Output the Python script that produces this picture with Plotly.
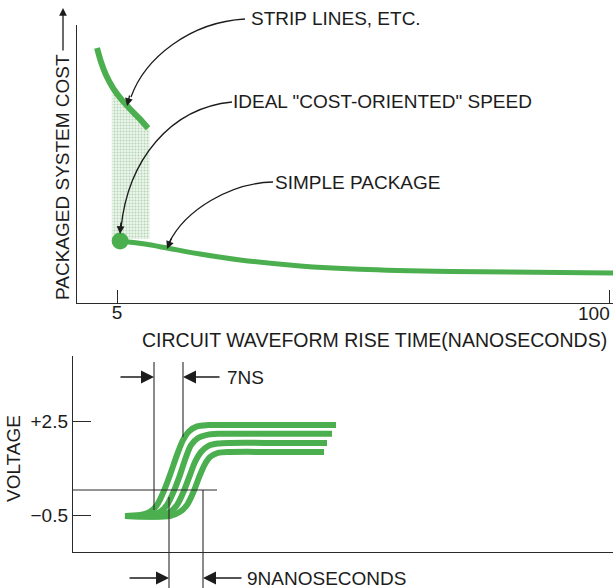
import plotly.graph_objects as go

W, H = 613, 588

# ---------------- top chart data (cost vs rise time) ----------------
strip_x = [1.15, 1.92, 2.88, 4.24, 5.77, 7.51, 9.24, 10.98]
strip_y = [91.7, 86.7, 82.0, 77.3, 73.4, 69.8, 66.5, 62.9]
simple_x = [5.6, 10.4, 14.6, 21.0, 28.7, 40.3, 51.8, 69.2, 100.6]
simple_y = [22.3, 21.2, 19.8, 17.6, 15.5, 13.3, 12.1, 11.3, 10.8]
ideal_x = [5.6]
ideal_y = [22.3]
shade_x = [4.0, 4.24, 5.77, 7.51, 9.24, 11.3, 11.3, 4.0]
shade_y = [77.8, 77.3, 73.4, 69.8, 66.5, 62.3, 23.0, 23.0]
top_tickvals = [5, 100]
top_ticktext = ["5", "100"]

# ---------------- bottom chart data (voltage vs time, ns) ----------------
c1_t = [13.0, 16.75, 19.25, 21.0, 22.5, 24.25, 26.0, 27.5, 29.0, 31.0, 33.75, 46.75, 65.75]
c1_v = [-0.53, -0.50, -0.40, -0.18, 0.20, 0.78, 1.42, 1.89, 2.17, 2.33, 2.37, 2.37, 2.37]
c2_t = [13.0, 19.25, 21.75, 23.5, 25.0, 26.75, 28.25, 29.5, 31.25, 33.25, 36.25, 49.25, 64.75]
c2_v = [-0.53, -0.50, -0.40, -0.18, 0.20, 0.78, 1.35, 1.73, 1.96, 2.05, 2.09, 2.09, 2.09]
c3_t = [13.0, 21.75, 24.25, 26.0, 27.5, 29.25, 30.5, 32.0, 33.75, 36.25, 39.25, 51.75, 63.5]
c3_v = [-0.53, -0.53, -0.40, -0.18, 0.20, 0.78, 1.19, 1.51, 1.70, 1.78, 1.80, 1.80, 1.80]
c4_t = [13.0, 24.25, 26.75, 28.5, 30.0, 31.75, 33.0, 34.25, 36.25, 39.25, 54.25, 62.75]
c4_v = [-0.53, -0.53, -0.40, -0.18, 0.20, 0.78, 1.13, 1.35, 1.48, 1.51, 1.51, 1.51]
bot_tickvals = [2.5, -0.5]
bot_ticktext = ["+2.5", "\u22120.5"]
threshold_v = 0.30
threshold_t_end = 36.0
t7_start, t7_end = 20.25, 27.5
t9_start, t9_end = 24.0, 32.5

GREEN = "#4caf4f"
INK = "#1c1c1c"
FONT = "Liberation Sans, Arial, sans-serif"
FS = 19


def PX(x):
    return x / W


def PY(y):
    return 1 - y / H


fig = go.Figure()

fig.add_trace(go.Scatter(
    x=shade_x, y=shade_y, xaxis="x", yaxis="y", mode="lines", fill="toself",
    line=dict(width=0), fillcolor="rgba(215,235,215,0.6)",
    fillpattern=dict(shape=".", fgcolor="rgba(105,165,105,0.8)",
                     bgcolor="rgba(222,238,222,0.6)", size=3, solidity=0.35),
    hoverinfo="skip"))
fig.add_trace(go.Scatter(x=strip_x, y=strip_y, xaxis="x", yaxis="y", mode="lines",
                         line=dict(color=GREEN, width=6, shape="spline", smoothing=0.8)))
fig.add_trace(go.Scatter(x=simple_x, y=simple_y, xaxis="x", yaxis="y", mode="lines",
                         line=dict(color=GREEN, width=5, shape="spline", smoothing=0.8)))
fig.add_trace(go.Scatter(x=ideal_x, y=ideal_y, xaxis="x", yaxis="y", mode="markers",
                         marker=dict(color=GREEN, size=17)))

for tt, vv in [(c4_t, c4_v), (c3_t, c3_v), (c2_t, c2_v), (c1_t, c1_v)]:
    fig.add_trace(go.Scatter(x=tt, y=vv, xaxis="x2", yaxis="y2", mode="lines",
                             line=dict(color=GREEN, width=6, shape="spline", smoothing=0.8)))

axis_common = dict(showgrid=False, zeroline=False, showline=True, linecolor="#2a2a2a",
                   linewidth=1.4, tickcolor="#2a2a2a",
                   tickfont=dict(family=FONT, size=FS, color=INK))

fig.update_layout(
    width=W, height=H, margin=dict(l=0, r=0, t=0, b=0), autosize=False,
    paper_bgcolor="white", plot_bgcolor="white", showlegend=False,
    # the "100" label sits at the right page edge, so it is drawn as an
    # annotation that ends at the edge instead of overflowing the page
    xaxis=dict(domain=[77 / W, 1], range=[-2.71, 100.59], anchor="y",
               ticks="inside", ticklen=13, tickwidth=1.2, ticklabelstandoff=-8,
               tickvals=top_tickvals, ticktext=[top_ticktext[0], ""], **axis_common),
    yaxis=dict(domain=[PY(303), PY(25)], range=[0, 100], anchor="x",
               showticklabels=False, ticks="", **axis_common),
    xaxis2=dict(domain=[73 / W, 1], range=[0, 135], anchor="y2",
                showticklabels=False, ticks="", **axis_common),
    yaxis2=dict(domain=[PY(552), PY(356)], range=[-1.681, 4.575], anchor="x2",
                ticks="inside", ticklen=18, tickwidth=1.2,
                tickvals=bot_tickvals, ticktext=bot_ticktext, **axis_common),
)

shapes = []


def cubic(p0, p1, p2, p3):
    return (f"M {PX(p0[0])},{PY(p0[1])} C {PX(p1[0])},{PY(p1[1])} "
            f"{PX(p2[0])},{PY(p2[1])} {PX(p3[0])},{PY(p3[1])}")


for pts in [((245, 19), (190, 22), (145, 58), (131, 97)),
            ((232, 102), (170, 108), (128, 160), (121, 228)),
            ((273, 182), (230, 183), (185, 210), (169, 243))]:
    shapes.append(dict(type="path", path=cubic(*pts), xref="paper", yref="paper",
                       line=dict(color=INK, width=1.3)))

line_style = dict(color="#2a2a2a", width=1.1)
shapes.append(dict(type="line", xref="x2", yref="paper", x0=t7_start, x1=t7_start,
                   y0=PY(362), y1=PY(510), line=line_style))
shapes.append(dict(type="line", xref="x2", yref="paper", x0=t7_end, x1=t7_end,
                   y0=PY(362), y1=PY(437), line=line_style))
shapes.append(dict(type="line", xref="x2", yref="paper", x0=t9_start, x1=t9_start,
                   y0=PY(497), y1=PY(588), line=line_style))
shapes.append(dict(type="line", xref="x2", yref="paper", x0=t9_end, x1=t9_end,
                   y0=PY(490), y1=PY(588), line=line_style))
shapes.append(dict(type="line", xref="x2", yref="y2", x0=0, x1=threshold_t_end,
                   y0=threshold_v, y1=threshold_v, line=line_style))
fig.update_layout(shapes=shapes)

ann = []


def label(text, x, y, xanchor="left", angle=0, size=FS):
    ann.append(dict(text=text, x=PX(x), y=PY(y), xref="paper", yref="paper",
                    xanchor=xanchor, yanchor="middle", showarrow=False, textangle=angle,
                    font=dict(family=FONT, size=size, color=INK)))


label("STRIP LINES, ETC.", 249, 19)
label('IDEAL "COST-ORIENTED" SPEED', 231, 102)
label("SIMPLE PACKAGE", 273, 182)
label("CIRCUIT WAVEFORM RISE TIME(NANOSECONDS)", 374, 340, xanchor="center", size=19.5)
label("PACKAGED SYSTEM COST", 63, 177, xanchor="center", angle=-90)
label("VOLTAGE", 13, 459, xanchor="center", angle=-90)
label("7NS", 225, 377)
label("9NANOSECONDS", 245, 578)
label(top_ticktext[1], 612, 313, xanchor="right")


def head(x, y, ax, ay, xref="paper", size=1.2):
    ann.append(dict(text="", x=x, y=PY(y), xref=xref, yref="paper", ax=ax, ay=ay,
                    showarrow=True, arrowhead=2, arrowsize=size, arrowwidth=1.3,
                    arrowcolor=INK, standoff=0, startstandoff=0))


head(PX(127), 106, 3, -12)
head(PX(120), 234, 1, -13)
head(PX(167), 249, 5, -12)
head(PX(63), 8, 0, 44)
head(t7_start, 377, -35, 0, "x2", 2.0)
head(t7_end, 377, 38, 0, "x2", 2.0)
head(t9_start, 578, -41, 0, "x2", 2.0)
head(t9_end, 578, 40, 0, "x2", 2.0)
fig.update_layout(annotations=ann)

fig.write_html(
    "out.html",
    config={"displayModeBar": False},
    post_script="document.body.style.margin='0';document.body.style.overflow='hidden';",
)
